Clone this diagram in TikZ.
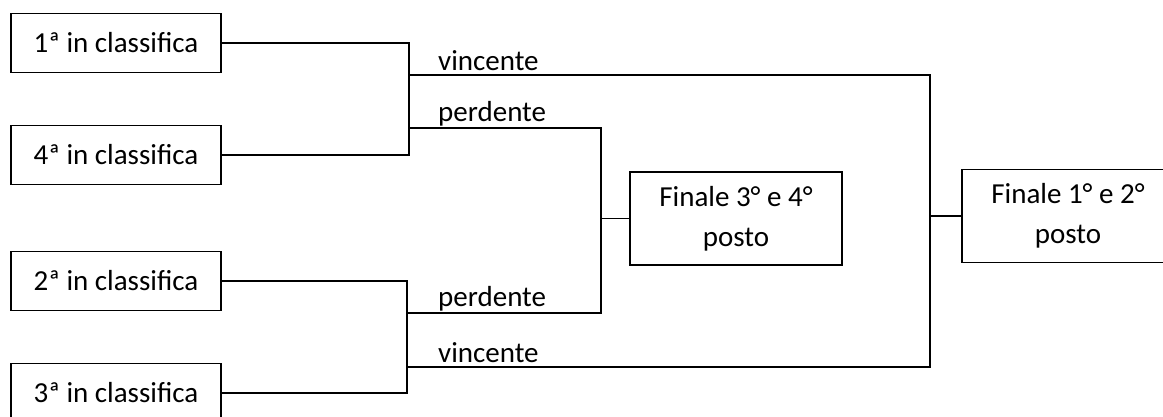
\documentclass[tikz,border=0pt]{standalone}
\usepackage{fontspec}
\setmainfont{Carlito}
\begin{document}
\begin{tikzpicture}[x=1pt,y=-1pt,
  every node/.style={font=\fontsize{29}{40}\selectfont, inner sep=0pt},
  teambox/.style={draw, line width=1.6pt, minimum width=210pt, minimum height=59pt},
  finalbox/.style={draw, line width=1.6pt, minimum width=212pt, minimum height=93pt, align=center},
  conn/.style={line width=1.6pt},
  lbl/.style={anchor=base west}]
\useasboundingbox (0,0) rectangle (1163,417);
\clip (0,0) rectangle (1163,417);
\node[teambox] (b1) at (116,43) {1ª in classifica};
\node[teambox] (b4) at (116,155) {4ª in classifica};
\node[teambox] (b2) at (116,281) {2ª in classifica};
\node[teambox] (b3) at (116,393) {3ª in classifica};
\node[finalbox] (f34) at (736,218.5) {Finale 3° e 4°\\posto};
\node[finalbox] (f12) at (1068,216) {Finale 1° e 2°\\posto};
\coordinate (m1) at (409,99);
\coordinate (m2) at (407,337);
\coordinate (v1) at (409,75);
\coordinate (p1) at (409,128);
\coordinate (p2) at (407,313);
\coordinate (v2) at (407,367);
\coordinate (mp) at (601,218.5);
\coordinate (mv) at (930,216);
\draw[conn] (b1.east) -| (m1) |- (b4.east);
\draw[conn] (b2.east) -| (m2) |- (b3.east);
\draw[conn] (v1) -| (mv) |- (v2);
\draw[conn] (p1) -| (mp) |- (p2);
\draw[conn] (mp) -- (f34.west);
\draw[conn] (mv) -- (f12.west);
\node[lbl] (lv1) at (438,71) {vincente};
\node[lbl] (lp1) at (438,122) {perdente};
\node[lbl] (lp2) at (438,306) {perdente};
\node[lbl] (lv2) at (438,362) {vincente};
\end{tikzpicture}
\end{document}
